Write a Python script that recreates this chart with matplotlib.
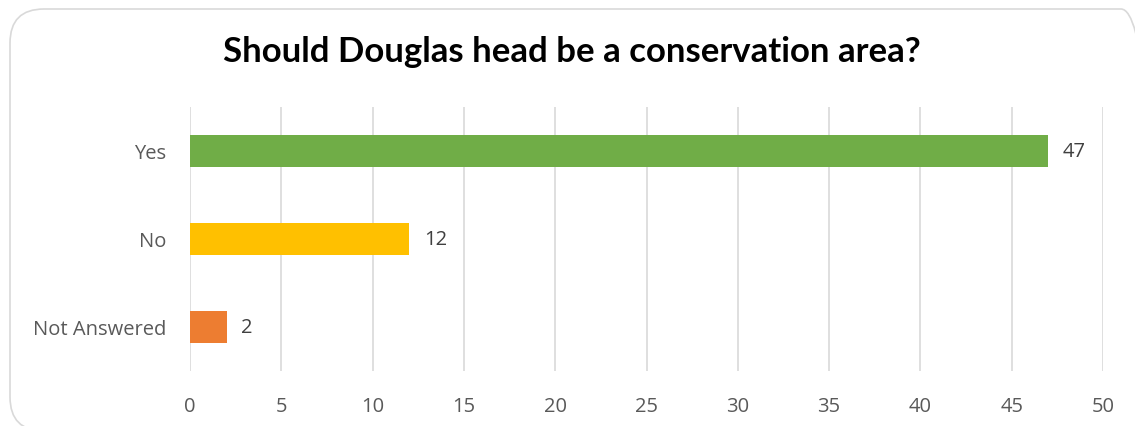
import matplotlib.pyplot as plt
from matplotlib.patches import FancyBboxPatch

categories = ["Not Answered", "No", "Yes"]
counts = [2, 12, 47]
colors = ["#ED7D31", "#FFC000", "#70AD47"]
x_ticks = [0, 5, 10, 15, 20, 25, 30, 35, 40, 45, 50]

plt.rcParams["font.family"] = ["Open Sans", "DejaVu Sans"]

fig = plt.figure(figsize=(11.35, 4.27), dpi=100)
ax = fig.add_axes([190 / 1135, 1 - 372 / 427, (1103 - 190) / 1135, (372 - 108) / 427])

# Rounded chart border (runs off the right and bottom edges)
border = FancyBboxPatch((10 / 1135, 1 - 432 / 427), 1145 / 1135, 422 / 427,
                        boxstyle="round,pad=0,rounding_size=0.03",
                        transform=fig.transFigure, facecolor="none",
                        edgecolor="#D9D9D9", linewidth=1.2, mutation_aspect=1135 / 427)
fig.patches.append(border)

bars = ax.barh(categories, counts, height=0.366, color=colors, zorder=3)
for bar, val in zip(bars, counts):
    ax.text(bar.get_width() + 0.8, bar.get_y() + bar.get_height() / 2, str(val),
            va="center", ha="left", fontsize=14.5, color="#404040")

ax.set_xlim(0, 50)
ax.set_ylim(-0.5, 2.5)
ax.set_xticks(x_ticks)
ax.grid(axis="x", color="#D9D9D9", linewidth=1.2, zorder=0)
for s in ax.spines.values():
    s.set_visible(False)
ax.tick_params(axis="both", length=0, labelsize=14.5, labelcolor="#595959")
ax.tick_params(axis="x", pad=18)
ax.tick_params(axis="y", pad=17)

fig.text(572 / 1135, 1 - 52 / 427, "Should Douglas head be a conservation area?",
         ha="center", va="center", fontsize=25, fontweight="bold",
         family=["Lato", "DejaVu Sans"], color="black")

fig.savefig("out.png", dpi=100)
